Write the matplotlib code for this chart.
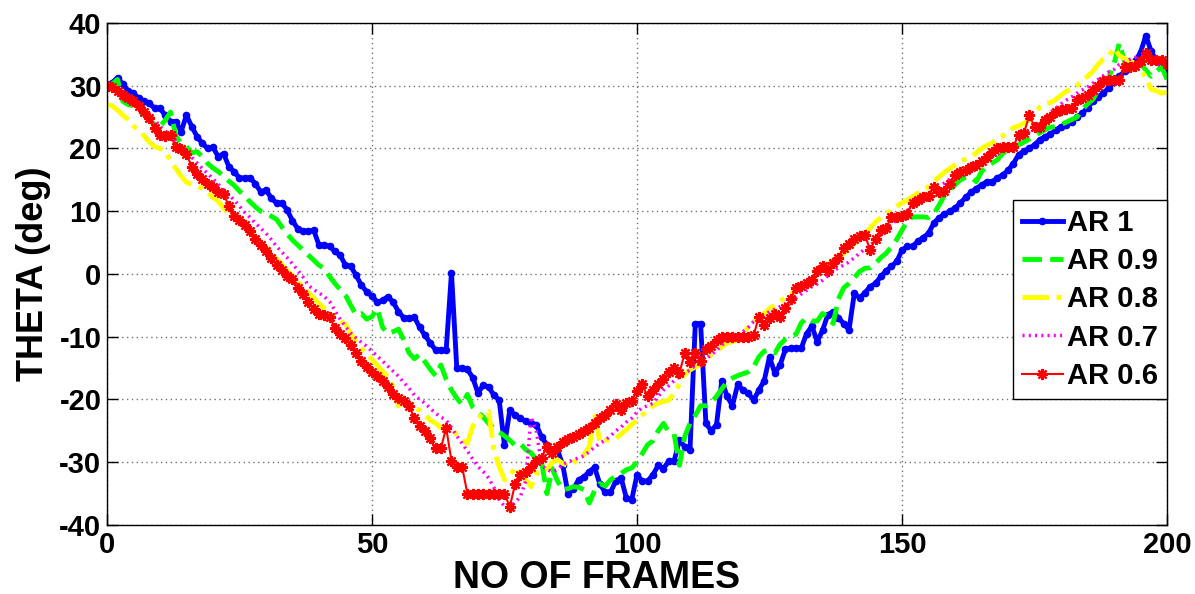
import numpy as np
import matplotlib.pyplot as plt

plt.rcParams['font.family'] = ['Liberation Sans', 'DejaVu Sans']
plt.rcParams['font.weight'] = 'bold'
plt.rcParams['axes.unicode_minus'] = False

frames = np.arange(201)

# estimated orientation angle per frame for each aspect ratio
ar10 = [30, 30.5, 31.3, 30.2, 29.2, 28.8, 28, 27.5, 27.2, 26.4,
        26.4, 25.3, 24.3, 24.3, 22.7, 25.3, 23.5, 21.9, 20.8, 20,
        20.2, 18.7, 19.2, 17.1, 16.3, 15.3, 15.3, 15.3, 14.4, 13.1,
        13.4, 12.1, 11.3, 11.3, 10.2, 8.5, 7.2, 6.8, 6.8, 7,
        4.6, 4.6, 4.4, 3.6, 3.0, 1.4, 1.2, -0.2, -1.8, -2.8,
        -3.5, -4.5, -4.2, -3.6, -4.5, -6, -7, -7, -6.9, -8.5,
        -9.8, -11, -12.1, -12.1, -12.1, 0.2, -15, -15, -15.2, -16.5,
        -19, -17.7, -18, -19.3, -20.1, -27.3, -21.7, -22.5, -23, -23.5,
        -23.8, -24, -26, -27.2, -28.3, -28, -30.5, -35, -34.2, -32.8,
        -32.3, -31.5, -30.8, -33.5, -34.8, -34.8, -33, -32.5, -35.7, -36,
        -32, -33, -33, -32, -30.5, -31, -29.8, -29.8, -26.5, -27.5,
        -28, -7.9, -7.9, -23.8, -25, -24, -17, -19.5, -21, -17.6,
        -18.5, -19, -20.1, -18.5, -17, -13.2, -15.8, -14.5, -12, -11.8,
        -11.8, -11.8, -9.5, -8.3, -10.8, -9, -6.5, -6, -7, -7.9,
        -8.9, -3.1, -3.8, -3, -2, -1.5, -0.4, 0.5, 1.2, 2,
        3.8, 4.4, 4.4, 5.2, 5.8, 6.5, 8.1, 9, 9.5, 10,
        10.5, 11.3, 12.2, 13, 13.6, 14.2, 14.7, 14.7, 15.3, 15.8,
        16.5, 17.6, 19, 19.6, 20, 20.6, 21.4, 21.9, 22.3, 22.9,
        23.5, 23.8, 24.3, 25, 25.6, 26.5, 27.5, 28.2, 28.8, 29.7,
        30.6, 31.5, 32.3, 33.1, 34, 35.3, 38, 35.5, 34, 33,
        32]

ar09 = [30, 30.3, 31, 27.5, 27, 26.8, 26, 25.4, 24.5, 23.8,
        23.5, 24.5, 25.8, 22, 20.8, 20.3, 19.3, 19.5, 18.7, 17.6,
        16.9, 16.3, 15.6, 14.8, 14.1, 13.2, 12.4, 11.5, 10.7, 10,
        9.6, 9.2, 8.7, 7.5, 6.4, 5.4, 4.6, 3.8, 3, 2.2,
        1.4, 0.9, -0.4, -1.5, -2.5, -3.4, -5, -6.5, -6.3, -7.2,
        -6.8, -5.5, -8.5, -9.5, -9.2, -8.8, -10.5, -12.6, -13.5, -12.8,
        -14, -15.2, -16.2, -14.5, -16.8, -18.5, -19.8, -20.8, -19.2, -21.2,
        -22, -22.8, -23.8, -24.6, -25.2, -25.8, -26.5, -27.3, -27, -28,
        -28.5, -29.5, -30, -35, -31, -33, -34.4, -34.2, -33.9, -34,
        -34.4, -36.5, -34.5, -33.4, -33.8, -32.8, -32.2, -31.8, -31.2, -30.9,
        -30, -28.6, -27.2, -26.6, -25, -23.8, -25.2, -25.5, -30.5, -25.9,
        -23.8, -22.5, -21, -21, -20.5, -19.5, -18.3, -17.2, -16.6, -16.2,
        -15.9, -15.6, -14.8, -13.2, -12.3, -12.1, -12.6, -11.2, -10.4, -10,
        -9.6, -7.8, -7, -7.5, -7.5, -6.3, -6.8, -7.9, -4, -2.2,
        -1.5, -0.6, 0.4, 0.9, 1, 1.7, 2.6, 3.3, 4.3, 5.5,
        7, 8.4, 9.1, 9.1, 9.1, 9, 9.6, 11, 12.5, 13.4,
        14.2, 15, 15.4, 15.5, 14.7, 16.3, 17.2, 17.7, 18.2, 19.2,
        19.8, 20.3, 20.6, 21, 21.5, 22, 22.5, 23, 23.4, 23.5,
        23.8, 24.2, 24.6, 25, 26.2, 27.1, 27.8, 29.3, 30.6, 31.3,
        33.5, 36.8, 33.8, 33.5, 34.1, 33.5, 32.5, 31.5, 32.3, 33,
        31]

ar08 = [27, 26.8, 26.1, 25.3, 24.6, 23.6, 22.8, 22, 21, 20.3,
        20, 19.5, 18, 16.8, 15.6, 14.6, 14.3, 14.1, 13.6, 13,
        12.2, 11.6, 10.5, 9.8, 9, 8.3, 7.6, 7, 5.9, 5,
        4.3, 3.3, 2.4, 1.5, 0.5, -0.3, -1.3, -2, -3, -3.8,
        -4.7, -5.5, -6.3, -7, -7.5, -8, -9.5, -10.7, -11.8, -12.8,
        -13.6, -14.6, -15.5, -16.5, -18, -21, -20.3, -20.6, -21.3, -21.7,
        -22.5, -23.3, -23.8, -24.5, -24.5, -24.5, -25.6, -26.5, -27, -24.3,
        -23, -22.2, -21.9, -28, -30.7, -32.8, -32.3, -30.7, -32, -32.8,
        -33.9, -31.8, -31.5, -31.2, -30, -29.6, -30.2, -30.6, -30, -29.6,
        -28.8, -27.5, -22.2, -26.9, -26.5, -26.5, -26.2, -25.5, -24.8, -24,
        -23.3, -22.5, -21.7, -21, -20.6, -20.3, -20.1, -19, -17.5, -16,
        -15.3, -14.8, -14.5, -13.5, -12.9, -12.3, -11.6, -11, -10.8, -10.5,
        -9.5, -8.4, -7.6, -7, -6.3, -5.5, -5, -4.3, -3.8, -3.2,
        -2.6, -2, -1.4, -1, 0, 0.8, 1.5, 2.2, 2.8, 3.3,
        4, 4.8, 5.6, 6.5, 7.3, 8.3, 9, 9.6, 10.2, 10.8,
        11.3, 11.8, 12.3, 12.9, 13.4, 13.9, 14.7, 15.5, 16.2, 16.8,
        17.4, 18, 18.3, 18.7, 19.3, 20, 20.5, 20.9, 21.6, 22,
        22.8, 23.3, 23.6, 24, 24.5, 25.5, 26.6, 27.2, 27.3, 27.8,
        28.5, 29.1, 29.5, 30, 30.8, 31.5, 32.3, 33.4, 34.3, 34.8,
        36, 34.8, 34.3, 34, 33.5, 32.5, 31.4, 29.4, 29.2, 28.8,
        29]

ar07 = [30, 29.8, 29.3, 28.6, 28, 27.5, 27, 26.3, 25.5, 24.6,
        23.5, 22.8, 22, 21.2, 20.3, 19.5, 18.6, 17.7, 16.8, 16,
        15.2, 14.3, 13.4, 12.6, 11.8, 10.8, 9.8, 9, 8.1, 7.3,
        6.5, 5.5, 4.4, 3.5, 2.6, 1.6, 0.6, -0.5, -1.8, -2.5,
        -3, -3.6, -4.4, -5.8, -7.2, -8.4, -9.4, -10.2, -10.9, -11.5,
        -12.3, -13.1, -13.9, -14.7, -15.5, -16.3, -17.3, -18.2, -19.3, -20,
        -20.6, -21.4, -22.2, -22.8, -23.3, -24.5, -25.8, -27, -28.2, -29.5,
        -30.7, -31.5, -32.5, -34, -36, -37, -37.1, -36.4, -35.5, -33,
        -22.8, -25, -30.5, -31.2, -31.5, -31.2, -30.3, -30, -29.6, -29.3,
        -29, -28.3, -27.6, -27, -26.5, -25.8, -25, -24.4, -23.6, -23,
        -22, -21.3, -21, -20.6, -19.5, -18.5, -17.8, -17, -16.4, -15.8,
        -15.3, -14.6, -14.2, -13.5, -12.9, -12.2, -11.3, -10.8, -10.2, -9.8,
        -9.2, -8.5, -7.6, -6.9, -6.6, -6, -5.6, -5.2, -4.7, -4.3,
        -3.8, -3.2, -2.6, -2, -1.6, -1, -0.3, 0.4, 1, 1.4,
        1.9, 2.6, 3.3, 4, 4.6, 5.3, 6.2, 7, 7.8, 8.7,
        9.5, 10.1, 10.7, 11.3, 12, 12.6, 13.2, 13.9, 14.5, 15.1,
        15.8, 16.2, 16.6, 17, 17.4, 17.8, 18.2, 18.7, 19.1, 19.5,
        19.9, 20.5, 21.2, 22, 22.7, 23.4, 24.2, 25, 25.7, 26.4,
        27.1, 27.7, 28.2, 28.8, 29.3, 29.8, 30.4, 31, 31.6, 32.2,
        32.6, 33.4, 33.8, 34.2, 34.5, 34.7, 34.4, 33.9, 33.5, 33.2,
        33]

ar06 = [30, 29.8, 29.2, 28.6, 28.1, 27.6, 26.8, 25.8, 24.8, 23.2,
        22.2, 22, 22.1, 20.2, 19.9, 19.1, 17.1, 16, 15.2, 14.3,
        13.8, 13.1, 12.8, 10.8, 9.3, 8.6, 7.8, 6.8, 5.5, 4.6,
        3.6, 2.5, 1.5, 0.6, -0.4, -0.8, -2.3, -3.2, -4.4, -5.6,
        -6.3, -6.5, -6.8, -8.6, -9.5, -10.2, -11.3, -12.6, -13.8, -14.9,
        -15.6, -16.2, -17, -18, -19.2, -19.8, -20.3, -21, -23, -24.2,
        -25, -26.2, -27.8, -27.8, -24.5, -29.8, -30.7, -30.7, -35, -35,
        -35, -35, -35, -35, -35, -35, -37.1, -33.5, -32, -31.5,
        -30.8, -29.8, -29.3, -27.5, -28.6, -27.5, -26.8, -26.3, -25.9, -25.5,
        -25, -24.6, -23.8, -23, -22.4, -21.7, -20.8, -21.7, -20.6, -20.2,
        -18.7, -17.6, -19.5, -18.5, -17.5, -16.8, -15.6, -15, -15.8, -12.6,
        -14, -12.6, -13.9, -12, -11.4, -10.6, -10, -10, -10, -10,
        -10, -10, -9.8, -6.8, -8.2, -7, -6.4, -6.8, -5.5, -4,
        -2.2, -1.9, -1.5, -1, 0.5, 1.2, 0.4, 1.7, 2.5, 4.1,
        4.8, 5.5, 6, 6.2, 3.8, 5.6, 7, 7.3, 9.1, 9.1,
        9.2, 9.6, 11.3, 11.8, 12.2, 12.5, 13.9, 13.1, 13.3, 14.4,
        15.8, 16.3, 16.6, 17.1, 17.4, 18, 18.6, 19.4, 20, 20.3,
        20.3, 20.3, 22.2, 22.4, 25.3, 23.5, 23.5, 24.5, 25, 25.8,
        26.1, 26.3, 26.5, 27.7, 28, 28.6, 29.3, 30, 30.7, 30.9,
        30.9, 30.9, 33, 33, 33.2, 34, 35.2, 34.1, 34.1, 34.1,
        33.5]

fig, ax = plt.subplots(figsize=(11.95, 5.94), dpi=100)
fig.subplots_adjust(left=0.0895, right=0.9766, bottom=0.1162, top=0.9613)

ax.plot(frames, ar10, color='#0000ff', lw=3.5, marker='.', ms=9, label='AR 1')
ax.plot(frames, ar09, color='#00ff00', lw=3.5, ls='--', dashes=(4, 1.7), label='AR 0.9')
ax.plot(frames, ar08, color='#ffff00', lw=3.5, ls='-.', dashes=(5.5, 1.5, 1, 1.5), label='AR 0.8')
ax.plot(frames, ar07, color='#ff00ff', lw=2.5, ls=':', dashes=(0.6, 1.2), label='AR 0.7')
ax.plot(frames, ar06, color='#ff0000', lw=1.5, marker=(8, 2, 0), ms=8, mew=1.6, label='AR 0.6')

ax.set_xlim(0, 200)
ax.set_ylim(-40, 40)
ax.set_xticks([0, 50, 100, 150, 200])
ax.set_yticks(np.arange(-40, 41, 10))
ax.tick_params(direction='in', length=8, width=1, top=True, right=True,
               labelsize=21, pad=4)
for lab in ax.get_xticklabels() + ax.get_yticklabels():
    lab.set_fontweight('bold')
ax.grid(True, color='0.45', ls=':', lw=1, dashes=(1, 2.5))
for sp in ax.spines.values():
    sp.set_linewidth(1)

ax.set_xlabel('NO OF FRAMES', fontsize=27, fontweight='bold', labelpad=1, x=0.462)
ax.set_ylabel('THETA (deg)', fontsize=26, fontweight='bold', labelpad=6)

leg = ax.legend(loc='upper right', bbox_to_anchor=(1.0, 0.647), fontsize=21,
                handlelength=1.4, handletextpad=0.15, labelspacing=0.35,
                borderpad=0.3, borderaxespad=0, fancybox=False,
                edgecolor='black', framealpha=1)
leg.get_frame().set_linewidth(1)
for t in leg.get_texts():
    t.set_fontweight('bold')

fig.savefig('out.png', dpi=100)
